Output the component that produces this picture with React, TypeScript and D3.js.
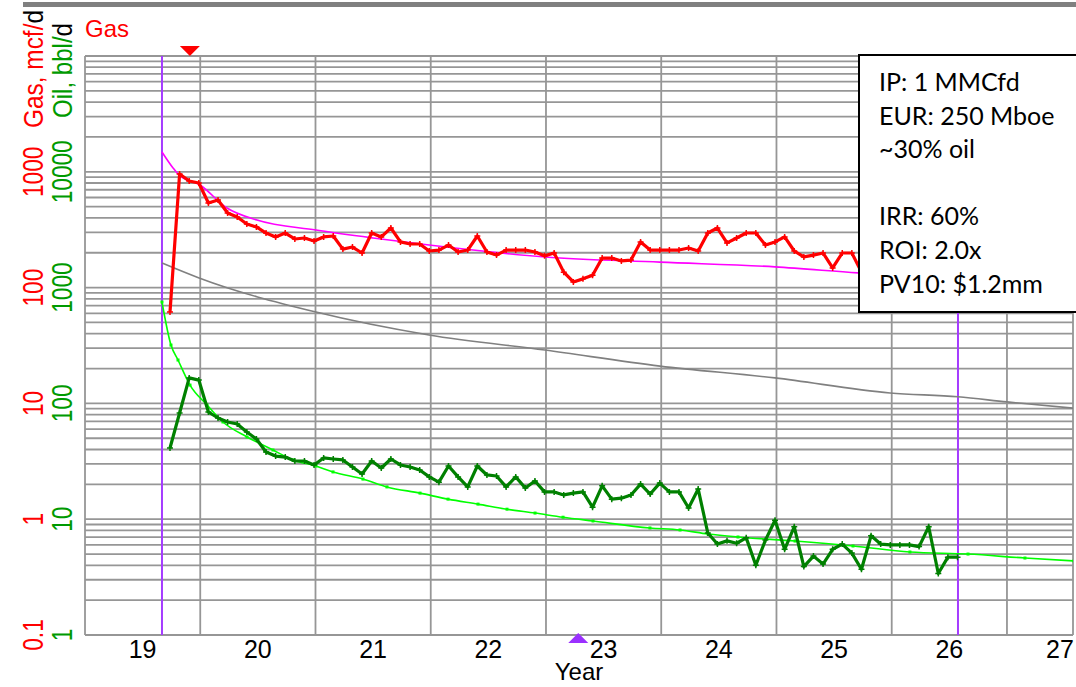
import React from "react";
import * as d3 from "d3";

const W = 1076;
const H = 687;
const PLOT = { left: 85, right: 1073, top: 56, bottom: 635 };

// axes
const xDomain = [19, 27.573];
const gasDomain = [0.1, 10000];
const oilDomain = [1, 100000];
const yearLabels = [19, 20, 21, 22, 23, 24, 25, 26, 27];
const gasTickLabels = ["0.1", "1", "10", "100", "1000"];
const gasTickValues = [0.1, 1, 10, 100, 1000];
const oilTickLabels = ["1", "10", "100", "1000", "10000"];

// monthly actuals, first month
const firstMonth = 19.7375;
const gasActual = [
  61.5, 957, 833, 800, 538, 571, 441, 407, 354, 334, 296, 274, 296, 263, 268, 253, 274, 279, 215, 224,
  199, 296, 274, 327, 248, 238, 238, 207, 211, 233, 203, 211, 279, 203, 191, 211, 211, 211, 203, 188,
  199, 136, 112, 119, 128, 180, 180, 170, 173, 248, 211, 211, 211, 211, 220, 207, 296, 327, 243, 268,
  296, 296, 233, 248, 274, 207, 184, 191, 199, 148, 199, 199, 136,
];
const oilActual = [
  41.2, 82.6, 166, 159, 84.3, 74.8, 69.1, 66.4, 56.6, 49.3, 38.0, 35.1, 34.4, 31.8, 31.8, 29.4, 33.8, 33.1,
  32.5, 28.2, 24.6, 31.8, 27.7, 33.1, 29.4, 28.2, 26.6, 23.2, 20.9, 28.8, 23.2, 19.0, 28.8, 24.1, 23.6, 19.0,
  23.2, 18.6, 21.4, 17.2, 17.2, 16.2, 16.8, 17.2, 12.7, 19.4, 14.9, 15.2, 16.2, 20.1, 16.5, 20.5, 17.2, 17.2,
  12.5, 18.2, 7.6, 6.1, 6.5, 6.2, 6.9, 4.0, 6.6, 9.8, 5.5, 8.6, 3.9, 4.8, 4.1, 5.5, 6.1, 5.1, 3.7, 7.2, 6.1,
  6.0, 6.0, 6.0, 5.8, 8.6, 3.4, 4.7, 4.7,
];

// forecasts
const gasFcstYears = [19.668, 19.764, 19.816, 19.998, 20.232, 20.492, 21.004, 21.499, 21.985, 22.991, 23.989, 24.987, 25.707, 26.575];
const gasFcstRates = [1483, 1079, 938, 769, 487, 383, 314, 268, 233, 184, 166, 151, 134, 119];
const oilFcstYears = [19.668, 19.746, 19.807, 19.911, 20.059, 20.197, 20.406, 20.631, 20.805, 21.004, 21.152, 21.412, 21.62, 21.907, 22.15, 22.41, 22.662, 22.905, 23.148, 23.408, 23.902, 24.163, 24.406, 24.666, 25.161, 25.664, 26.158, 26.662, 27.156, 27.581];
const oilFcstRates = [751, 319, 237, 144, 96.9, 69.1, 51.3, 39.6, 32.5, 28.8, 25.6, 22.2, 19.0, 16.8, 14.9, 13.5, 12.2, 11.3, 10.4, 9.65, 8.4, 8.07, 7.45, 7.02, 6.48, 5.87, 5.21, 5.0, 4.62, 4.36];
const otherFcstYears = [19.668, 19.99, 21.004, 21.985, 22.991, 23.989, 24.987, 25.985, 26.575, 27.0, 27.573];
const otherFcstRates = [163, 121, 61.5, 39.0, 28.9, 21.0, 16.6, 12.3, 11.4, 10.3, 9.1];

// markers
const limitYears = [19.668, 26.575];
const gasMarkerYear = 19.91;
const dateMarkerYear = 23.28;

const legendLines = ["IP: 1 MMCfd", "EUR: 250 Mboe", "~30% oil", "", "IRR: 60%", "ROI: 2.0x", "PV10: $1.2mm"];

const FONT = "'Liberation Sans', Arial, sans-serif";
const GRID = "#969696";

export default function App() {
  const x = d3.scaleLinear().domain(xDomain).range([PLOT.left, PLOT.right]);
  const gasY = d3.scaleLog().domain(gasDomain).range([PLOT.bottom, PLOT.top]);
  const oilY = d3.scaleLog().domain(oilDomain).range([PLOT.bottom, PLOT.top]);

  const gasPts: [number, number][] = gasActual.map((v, i) => [firstMonth + i / 12, v]);
  const oilPts: [number, number][] = oilActual.map((v, i) => [firstMonth + i / 12, v]);
  const gasF: [number, number][] = gasFcstYears.map((t, i) => [t, gasFcstRates[i]]);
  const oilF: [number, number][] = oilFcstYears.map((t, i) => [t, oilFcstRates[i]]);
  const othF: [number, number][] = otherFcstYears.map((t, i) => [t, otherFcstRates[i]]);

  const gasLine = d3.line<[number, number]>().x((d) => x(d[0])).y((d) => gasY(d[1]));
  const oilLine = d3.line<[number, number]>().x((d) => x(d[0])).y((d) => oilY(d[1]));
  const gasCurve = d3.line<[number, number]>().x((d) => x(d[0])).y((d) => gasY(d[1])).curve(d3.curveMonotoneX);
  const oilCurve = d3.line<[number, number]>().x((d) => x(d[0])).y((d) => oilY(d[1])).curve(d3.curveMonotoneX);

  const hTicks = gasY.ticks();
  const vYears = d3.range(20, 28);

  const cross = (cx: number, cy: number, color: string, k: string) => (
    <path key={k} d={`M${cx - 3},${cy}H${cx + 3}M${cx},${cy - 3}V${cy + 3}`} stroke={color} strokeWidth={1.5} />
  );

  const gm = x(gasMarkerYear);
  const dm = x(dateMarkerYear);

  return (
    <svg width={W} height={H} style={{ position: "absolute", left: 0, top: 0, background: "#fff" }} fontFamily={FONT}>
      <defs>
        <clipPath id="plotClip">
          <rect x={PLOT.left} y={PLOT.top} width={PLOT.right - PLOT.left} height={PLOT.bottom - PLOT.top} />
        </clipPath>
      </defs>
      <rect x={0} y={0} width={W} height={H} fill="#fff" />
      <rect x={23} y={2} width={W - 23} height={5} fill="#808080" />

      {/* grid */}
      <g stroke={GRID} strokeWidth={1.8}>
        {hTicks.map((t, i) => (
          <line key={"h" + i} x1={PLOT.left} x2={PLOT.right} y1={gasY(t)} y2={gasY(t)} />
        ))}
        <line x1={PLOT.left} x2={PLOT.right} y1={PLOT.top} y2={PLOT.top} />
        <line x1={PLOT.left} x2={PLOT.right} y1={PLOT.bottom} y2={PLOT.bottom} />
        <line x1={PLOT.left} x2={PLOT.left} y1={PLOT.top} y2={PLOT.bottom} />
        <line x1={PLOT.right} x2={PLOT.right} y1={PLOT.top} y2={PLOT.bottom} />
        {vYears.map((yr) => (
          <line key={"v" + yr} x1={x(yr)} x2={x(yr)} y1={PLOT.top} y2={PLOT.bottom} />
        ))}
      </g>

      {/* limit lines */}
      {limitYears.map((t, i) => (
        <line key={"lim" + i} x1={x(t)} x2={x(t)} y1={PLOT.top} y2={PLOT.bottom} stroke="#a53cff" strokeWidth={2} />
      ))}

      <g clipPath="url(#plotClip)" fill="none">
        <path d={gasCurve(othF) || ""} stroke="#808080" strokeWidth={1.6} />
        <path d={gasCurve(gasF) || ""} stroke="#ff00ff" strokeWidth={1.6} />
        <path d={oilCurve(oilF) || ""} stroke="#00ff00" strokeWidth={1.6} />
        {oilF.map((d, i) => (
          <rect key={"of" + i} x={x(d[0]) - 1.5} y={oilY(d[1]) - 1.5} width={3} height={3} fill="#00ff00" />
        ))}
        <path d={oilLine(oilPts) || ""} stroke="#008000" strokeWidth={3.2} strokeLinejoin="round" />
        {oilPts.map((d, i) => cross(x(d[0]), oilY(d[1]), "#008000", "oc" + i))}
        <path d={gasLine(gasPts) || ""} stroke="#ff0000" strokeWidth={3.2} strokeLinejoin="round" />
        {gasPts.map((d, i) => cross(x(d[0]), gasY(d[1]), "#ff0000", "gc" + i))}
      </g>

      {/* markers */}
      <path d={`M${gm - 10},${PLOT.top - 10}L${gm + 10},${PLOT.top - 10}L${gm},${PLOT.top}Z`} fill="#ff0000" />
      <path d={`M${dm - 10},${PLOT.bottom + 8}L${dm + 10},${PLOT.bottom + 8}L${dm},${PLOT.bottom - 2}Z`} fill="#9b30ff" />

      {/* titles */}
      <text x={PLOT.left} y={37} fill="#ff0000" fontSize={24}>Gas</text>

      <text transform={`translate(43,128) rotate(-90)`} fontSize={28} textLength={118} lengthAdjust="spacingAndGlyphs">
        <tspan fill="#ff0000">Gas, mcf/</tspan>
        <tspan fill="#000">d</tspan>
      </text>
      <text transform={`translate(72,118) rotate(-90)`} fontSize={28} textLength={95} lengthAdjust="spacingAndGlyphs">
        <tspan fill="#009a00">Oil, bbl/</tspan>
        <tspan fill="#000">d</tspan>
      </text>

      {/* y tick labels */}
      {gasTickValues.map((v, i) => (
        <text key={"gl" + i} transform={`translate(43,${gasY(v)}) rotate(-90) scale(0.78,1)`} textAnchor="middle" fontSize={29} fill="#ff0000">
          {gasTickLabels[i]}
        </text>
      ))}
      {gasTickValues.map((v, i) => (
        <text key={"ol" + i} transform={`translate(72,${oilY(v * 10)}) rotate(-90) scale(0.78,1)`} textAnchor="middle" fontSize={29} fill="#009a00">
          {oilTickLabels[i]}
        </text>
      ))}

      {/* x labels */}
      {yearLabels.map((yr) => (
        <text key={"xl" + yr} x={Math.min(x(yr + 0.5), W - 16)} y={658} textAnchor="middle" fontSize={25} fill="#000">
          {yr}
        </text>
      ))}
      <text x={(PLOT.left + PLOT.right) / 2} y={680} textAnchor="middle" fontSize={24} fill="#000">Year</text>

      {/* legend box */}
      <rect x={859} y={55} width={230} height={257} fill="#fff" stroke="#000" strokeWidth={2} />
      {legendLines.map((s, i) => (
        <text key={"lg" + i} x={879} y={91 + i * 33.6} fontSize={25} fontFamily="Lato, 'Open Sans', sans-serif" fill="#000">
          {s}
        </text>
      ))}
    </svg>
  );
}
